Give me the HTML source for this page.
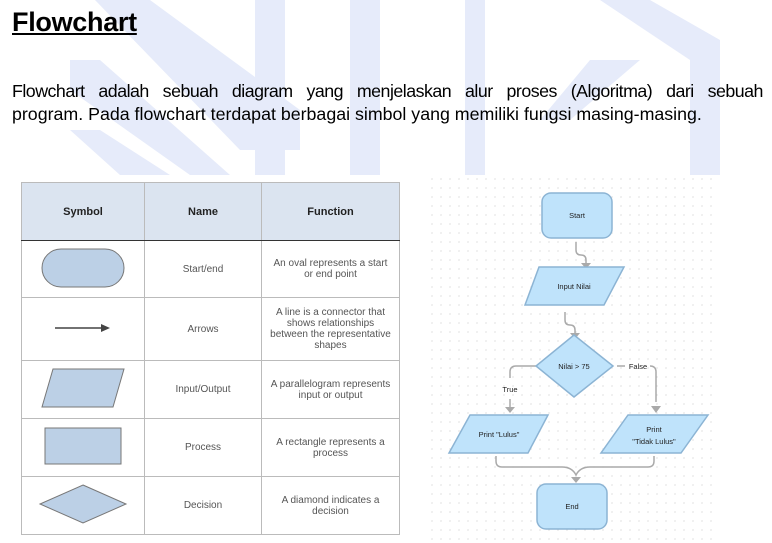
<!DOCTYPE html>
<html><head><meta charset="utf-8"><style>
body{margin:0;width:772px;height:543px;background:#fff;overflow:hidden;position:relative;font-family:"Liberation Sans",sans-serif}
.abs{position:absolute}
h1{position:absolute;left:12px;top:7px;margin:0;font-size:27px;font-weight:bold;text-decoration:underline;letter-spacing:-0.3px}
.p{position:absolute;left:12px;margin:0;width:751px;font-size:17.8px;line-height:23px;letter-spacing:0;white-space:nowrap}
table{position:absolute;left:21px;top:182px;border-collapse:collapse;font-size:10px;color:#555;background:#fff}
td,th{border:1px solid #bbb;text-align:center;padding:0 6px}
th{background:#dbe4f0;color:#222;font-size:11px;height:57px;border-bottom:1.5px solid #333}
</style></head><body>
<svg class="abs" style="left:0;top:0" width="772" height="543">
<g fill="#e6ebfa">
<polygon points="95,0 150,0 300,110 300,150 240,150"/>
<rect x="255" y="0" width="30" height="175"/>
<rect x="350" y="0" width="30" height="175"/>
<rect x="465" y="0" width="20" height="175"/>
<polygon points="600,0 650,0 720,40 720,175 690,175 690,60"/>
<polygon points="70,60 100,60 230,175 190,175 70,90"/>
<polygon points="70,130 100,130 170,175 120,175"/>
<polygon points="590,60 640,60 570,120 540,120"/>
</g>
</svg>
<h1>Flowchart</h1>
<div class="p" style="top:80px;display:flex;justify-content:space-between;letter-spacing:-0.5px"><span>Flowchart</span><span>adalah</span><span>sebuah</span><span>diagram</span><span>yang</span><span>menjelaskan</span><span>alur</span><span>proses</span><span>(Algoritma)</span><span>dari</span><span>sebuah</span></div>
<div class="p" style="top:103px">program. Pada flowchart terdapat berbagai simbol yang memiliki fungsi masing-masing.</div>
<table>
<tr><th style="width:110px">Symbol</th><th style="width:104px">Name</th><th style="width:125px">Function</th></tr>
<tr style="height:57px"><td><svg width="84" height="40"><rect x="1" y="1" width="82" height="38" rx="19" fill="#bcd0e6" stroke="#777"/></svg></td><td>Start/end</td><td>An oval represents a start or end point</td></tr>
<tr style="height:63px"><td><svg width="60" height="10"><line x1="2" y1="5" x2="50" y2="5" stroke="#444" stroke-width="1.5"/><polygon points="48,1 57,5 48,9" fill="#444"/></svg></td><td>Arrows</td><td>A line is a connector that shows relationships between the representative shapes</td></tr>
<tr style="height:58px"><td><svg width="84" height="40"><polygon points="12,1 83,1 72,39 1,39" fill="#bcd0e6" stroke="#777"/></svg></td><td>Input/Output</td><td>A parallelogram represents input or output</td></tr>
<tr style="height:58px"><td><svg width="78" height="38"><rect x="1" y="1" width="76" height="36" fill="#bcd0e6" stroke="#777"/></svg></td><td>Process</td><td>A rectangle represents a process</td></tr>
<tr style="height:58px"><td><svg width="90" height="40"><polygon points="45,1 88,20 45,39 2,20" fill="#bcd0e6" stroke="#777"/></svg></td><td>Decision</td><td>A diamond indicates a decision</td></tr>
</table>
<svg class="abs" style="left:428px;top:175px" width="290" height="368" font-family="Liberation Sans,sans-serif" font-size="7.5" fill="#222">
<defs><pattern id="d" width="9" height="9" patternUnits="userSpaceOnUse"><circle cx="4" cy="4" r="0.6" fill="#ccc"/></pattern></defs>
<rect width="290" height="368" fill="#fff"/><rect width="290" height="368" fill="url(#d)"/>
<g fill="none" stroke="#aaa" stroke-width="1.5">
<path d="M148,67 v8 q0,5 5,5 q5,0 5,5 v4"/>
<path d="M137,137 v8 q0,5 5,5 q5,0 5,5 v4"/>
<path d="M108,191 h-20 q-6,0 -6,6 v6 M82,224 v8"/>
<path d="M189,191 h8 M222,191 q6,0 6,6 v30"/>
<path d="M68,281 v5 q0,6 6,6 h60 q10,0 14,8 q4,-8 14,-8 h58 q6,0 6,-6 v-5"/>
</g>
<g fill="#aaa"><polygon points="153,88 163,88 158,94"/><polygon points="142,158 152,158 147,164"/><polygon points="77,232 87,232 82,238"/><polygon points="223,231 233,231 228,238"/><polygon points="143,302 153,302 148,308"/></g>
<g fill="#bfe3fb" stroke="#8cb4d4" stroke-width="1.5">
<rect x="114" y="18" width="70" height="45" rx="9"/>
<polygon points="111,92 196,92 176,130 97,130"/>
<polygon points="146,160 185,191 146,222 108,191"/>
<polygon points="42,240 120,240 100,278 21,278"/>
<polygon points="200,240 280,240 253,278 173,278"/>
<rect x="109" y="309" width="70" height="45" rx="9"/>
</g>
<g text-anchor="middle">
<text x="149" y="43">Start</text><text x="146" y="114">Input Nilai</text>
<text x="146" y="194">Nilai &gt; 75</text><text x="71" y="262">Print "Lulus"</text>
<text x="226" y="257">Print</text><text x="226" y="269">"Tidak Lulus"</text>
<text x="144" y="334">End</text>
<text x="82" y="217">True</text><text x="210" y="194">False</text>
</g>
</svg>
</body></html>
